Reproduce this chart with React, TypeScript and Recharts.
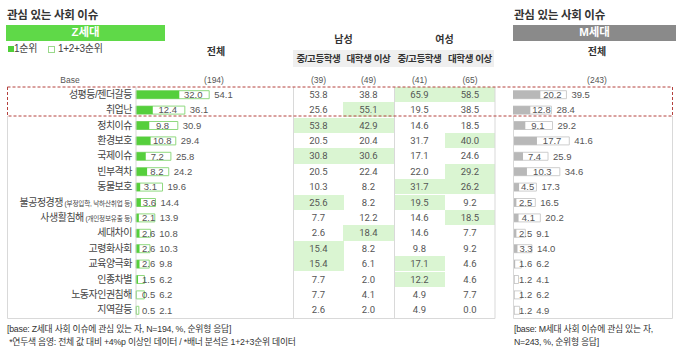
import { BarChart, Bar, XAxis, YAxis } from 'recharts'

const issues = [
  '성평등/젠더갈등', '취업난', '정치이슈', '환경보호', '국제이슈', '빈부격차', '동물보호',
  '불공정경쟁', '사생활침해', '세대차이', '고령화사회', '교육양극화', '인종차별', '노동자인권침해', '지역갈등',
]
const issueNotes: Record<string, string> = {
  '불공정경쟁': '(부정입학, 낙하산취업 등)',
  '사생활침해': '(개인정보유출 등)',
}
const zFirst = [32.0, 12.4, 9.8, 10.8, 7.2, 8.2, 3.1, 3.6, 2.1, 2.6, 2.6, 2.6, 1.5, 0.5, 0.5]
const zTotal = [54.1, 36.1, 30.9, 29.4, 25.8, 24.2, 19.6, 14.4, 13.9, 10.8, 10.3, 9.8, 6.2, 6.2, 2.1]
const maleMid = [53.8, 25.6, 53.8, 20.5, 30.8, 20.5, 10.3, 25.6, 7.7, 2.6, 15.4, 15.4, 7.7, 7.7, 2.6]
const maleUniv = [38.8, 55.1, 42.9, 20.4, 30.6, 22.4, 8.2, 8.2, 12.2, 18.4, 8.2, 6.1, 2.0, 4.1, 2.0]
const femaleMid = [65.9, 19.5, 14.6, 31.7, 17.1, 22.0, 31.7, 19.5, 14.6, 14.6, 9.8, 17.1, 12.2, 4.9, 4.9]
const femaleUniv = [58.5, 38.5, 18.5, 40.0, 24.6, 29.2, 26.2, 9.2, 18.5, 7.7, 9.2, 4.6, 4.6, 7.7, 0.0]
const mFirst = [20.2, 12.8, 9.1, 17.7, 7.4, 10.3, 4.5, 2.5, 4.1, 2.5, 3.3, 1.6, 1.2, 1.2, 1.2]
const mTotal = [39.5, 28.4, 29.2, 41.6, 25.9, 34.6, 17.3, 16.5, 20.2, 9.1, 14.0, 6.2, 4.1, 6.2, 4.9]

const groupHeads = ['남성', '여성']
const colHeads = ['중/고등학생', '대학생 이상', '중/고등학생', '대학생 이상']
const colBases = ['(39)', '(49)', '(41)', '(65)']
const tableCols = [maleMid, maleUniv, femaleMid, femaleUniv]

const zData = issues.map((name, i) => ({ name, first: zFirst[i], total: zTotal[i] }))
const mData = issues.map((name, i) => ({ name, first: mFirst[i], total: mTotal[i] }))

const FONT = "'Liberation Sans', 'Noto Sans CJK KR', sans-serif"
const ROW_TOP = 86.7
const ROW_H = 15.4
const PLOT_H = ROW_H * issues.length
const PLOT_W = 135.3
const COL_X = [293.3, 343.3, 394.3, 444.8]
const COL_W = 50.3
const HILITE = '#daf5d2'

const numW = (s: string) => s.split('').reduce((a, c) => a + (c === '.' ? 2.6 : 5.3), 0)
const fmt = (n: number) => n.toFixed(1)

// 1순위 value sits in the open part of the box, total goes after it
function makeFilled(color: string) {
  return function FilledBar(props: any) {
    const { x, y, width, height, payload } = props
    const first = payload.first as number
    const total = payload.total as number
    const k = first > 0 ? width / first : 0
    const fillEnd = x + width
    const outEnd = x + total * k
    const s1 = fmt(first)
    const w1 = numW(s1)
    const l1 = Math.max(fillEnd + 2, (fillEnd + outEnd) / 2 - w1 / 2 - 1, x + 6)
    const l2 = Math.max(outEnd + 5, l1 + w1 + 4)
    const cy = y + height / 2
    return (
      <g>
        <rect x={x} y={y} width={width} height={height} fill={color} />
        <text x={l1} y={cy} dy="0.35em" fontSize={9.5} fill="#555" fontFamily={FONT}>{s1}</text>
        <text x={l2} y={cy} dy="0.35em" fontSize={9.5} fill="#555" fontFamily={FONT}>{fmt(total)}</text>
      </g>
    )
  }
}

function IssueTick(props: any) {
  const { y, payload } = props
  const note = issueNotes[payload.value]
  return (
    <text x={132} y={y} dy="0.35em" textAnchor="end" fontSize={10} letterSpacing={-0.5} fill="#444" fontFamily={FONT}>
      {payload.value}
      {note ? <tspan fontSize={6.6} letterSpacing={-0.2}> {note}</tspan> : null}
    </text>
  )
}

function IssueBars({ data, fill, stroke, showTicks }: { data: any[]; fill: string; stroke: string; showTicks: boolean }) {
  const axisW = showTicks ? 136 : 0
  return (
    <BarChart
      width={axisW + PLOT_W + 40}
      height={ROW_TOP + PLOT_H + 4}
      data={data}
      layout="vertical"
      margin={{ top: ROW_TOP, right: 40, bottom: 4, left: 0 }}
    >
      <XAxis type="number" domain={[0, 100]} hide />
      <YAxis
        yAxisId="a"
        type="category"
        dataKey="name"
        width={axisW}
        hide={!showTicks}
        axisLine={{ stroke: '#d9d9d9' }}
        tickLine={false}
        tick={<IssueTick />}
        interval={0}
      />
      <YAxis yAxisId="b" type="category" dataKey="name" hide />
      <Bar yAxisId="b" dataKey="total" barSize={8} fill="#fff" stroke={stroke} strokeWidth={1} isAnimationActive={false} />
      <Bar yAxisId="a" dataKey="first" barSize={8} shape={makeFilled(fill)} isAnimationActive={false} />
    </BarChart>
  )
}

const abs = (left: number, top: number, extra: any = {}) => ({ position: 'absolute' as const, left, top, ...extra })

function CenterText({ cx, cy, children, size = 9, bold = false, color = '#555', w = 80, font = FONT }: any) {
  return (
    <div style={abs(cx - w / 2, cy - 8, { width: w, height: 16, lineHeight: '16px', textAlign: 'center', fontSize: size, fontWeight: bold ? 700 : 400, color, fontFamily: font, whiteSpace: 'nowrap' })}>
      {children}
    </div>
  )
}

export default function App() {
  return (
    <div style={{ position: 'absolute', left: 0, top: 0, width: 680, height: 351, background: '#fff', fontFamily: FONT, overflow: 'hidden' }}>
      {/* titles and banners */}
      <div style={abs(7, 6, { fontSize: 11.5, fontWeight: 700, color: '#333', letterSpacing: -0.3 })}>관심 있는 사회 이슈</div>
      <div style={abs(514, 6, { fontSize: 11.5, fontWeight: 700, color: '#333', letterSpacing: -0.3 })}>관심 있는 사회 이슈</div>
      <div style={abs(6, 25, { width: 159, height: 15.5, lineHeight: '15.5px', background: '#5fd948', color: '#fff', fontWeight: 700, fontSize: 11.5, textAlign: 'center' })}>Z세대</div>
      <div style={abs(513, 25, { width: 163, height: 15.5, lineHeight: '15.5px', background: '#8a8a8a', color: '#fff', fontWeight: 700, fontSize: 11.5, textAlign: 'center' })}>M세대</div>

      {/* legend */}
      <div style={abs(7.5, 46, { width: 6, height: 6, background: '#4fcf38' })} />
      <div style={abs(14, 42, { fontSize: 10, color: '#444', lineHeight: '14px', letterSpacing: -0.3 })}>1순위</div>
      <div style={abs(48, 46, { width: 5, height: 5, border: '1px solid #9ad98b' })} />
      <div style={abs(58, 42, { fontSize: 10, color: '#444', lineHeight: '14px', letterSpacing: -0.3 })}>1+2+3순위</div>

      {/* column heads */}
      <CenterText cx={216} cy={52} size={10} bold color="#333">전체</CenterText>
      <CenterText cx={597} cy={52} size={10} bold color="#333">전체</CenterText>
      <CenterText cx={343.5} cy={40} size={10} bold color="#333">{groupHeads[0]}</CenterText>
      <CenterText cx={444.5} cy={40} size={10} bold color="#333">{groupHeads[1]}</CenterText>
      <div style={abs(293, 50, { width: 201, height: 17, background: '#efefef' })} />
      {colHeads.map((h, c) => (
        <CenterText key={'h' + c} cx={COL_X[c] + COL_W / 2} cy={58.5} size={9.5} bold color="#333" w={COL_W + 8}>
          <span style={{ letterSpacing: -0.4 }}>{h}</span>
        </CenterText>
      ))}

      {/* base row */}
      <CenterText cx={70} cy={80} size={8.5}>Base</CenterText>
      <CenterText cx={214} cy={80} size={8.5}>(194)</CenterText>
      {colBases.map((b, c) => (
        <CenterText key={'b' + c} cx={COL_X[c] + COL_W / 2} cy={80} size={8.5}>{b}</CenterText>
      ))}
      <CenterText cx={597} cy={80} size={8.5}>(243)</CenterText>

      {/* banner table */}
      {tableCols.map((col, c) =>
        col.map((v, i) => (
          <div
            key={c + '-' + i}
            style={abs(COL_X[c], ROW_TOP + i * ROW_H, {
              width: COL_W, height: ROW_H, lineHeight: ROW_H + 'px', textAlign: 'center', fontSize: 9.5, color: '#555',
              fontFamily: 'Roboto, sans-serif',
              background: v >= zTotal[i] + 4 ? HILITE : 'transparent',
            })}
          >
            {fmt(v)}
          </div>
        )),
      )}

      {/* charts */}
      <div style={abs(0, 0)}>
        <IssueBars data={zData} fill="#55cf3c" stroke="#8fd97e" showTicks />
      </div>
      <div style={abs(513.3, 0)}>
        <IssueBars data={mData} fill="#b8b8b8" stroke="#cdcdcd" showTicks={false} />
      </div>

      {/* frame lines */}
      <svg width={680} height={351} style={abs(0, 0, { pointerEvents: 'none' })}>
        <g stroke="#d9d9d9" strokeWidth={1} fill="none">
          <line x1={7.5} y1={116} x2={7.5} y2={318.5} />
          <line x1={7.5} y1={318.5} x2={495} y2={318.5} />
          <line x1={293.5} y1={87} x2={293.5} y2={318.5} />
          <line x1={394.5} y1={87} x2={394.5} y2={318.5} />
          <line x1={495} y1={87} x2={495} y2={318.5} />
          <line x1={513.5} y1={116} x2={513.5} y2={318.5} />
          <line x1={672.5} y1={116} x2={672.5} y2={318.5} />
          <line x1={513.5} y1={318.5} x2={672.5} y2={318.5} />
        </g>
        <rect x={7.5} y={87} width={665} height={29} fill="none" stroke="#b4423f" strokeWidth={1} strokeDasharray="3 2" />
      </svg>

      {/* notes */}
      <div style={abs(7, 323, { fontSize: 8.8, color: '#333', letterSpacing: -0.25, lineHeight: '12.5px', whiteSpace: 'nowrap' })}>
        [base: Z세대 사회 이슈에 관심 있는 자, N=194, %, 순위형 응답]
        <br />
        &nbsp;*연두색 음영: 전체 값 대비 +4%p 이상인 데이터 / *배너 분석은 1+2+3순위 데이터
      </div>
      <div style={abs(514, 323, { fontSize: 8.8, color: '#333', letterSpacing: -0.25, lineHeight: '12.5px', whiteSpace: 'nowrap' })}>
        [base: M세대 사회 이슈에 관심 있는 자,
        <br />
        N=243, %, 순위형 응답]
      </div>
    </div>
  )
}
